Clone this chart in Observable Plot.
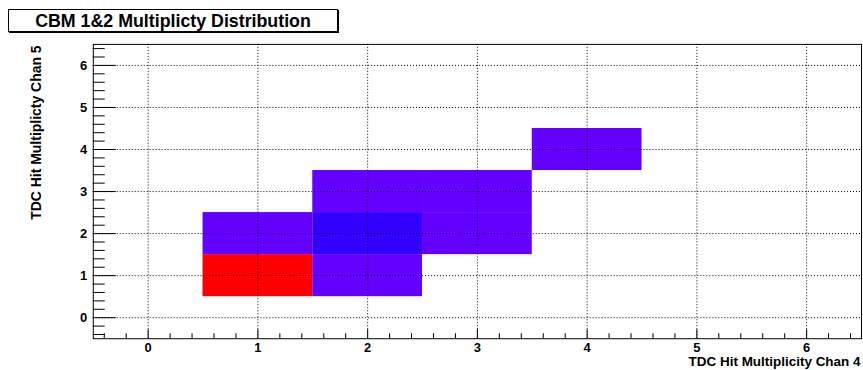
<!DOCTYPE html>
<html>
<head>
<meta charset="utf-8">
<script src="https://cdn.jsdelivr.net/npm/d3@7"></script>
<script src="https://cdn.jsdelivr.net/npm/@observablehq/plot@0.6"></script>
<style>
  html, body { margin: 0; padding: 0; background: #fff; overflow: hidden; }
  #wrap { position: relative; width: 863px; height: 370px; }
  #title {
    position: absolute; left: 8px; top: 9px; width: 328px; height: 21px;
    border: 1px solid #000; box-shadow: 1px 1px 0 #000; background: #fff;
    font: bold 17.8px "Liberation Sans", Arial, sans-serif; line-height: 22px;
    text-align: center; color: #000; white-space: nowrap;
  }
  svg { display: block; }
</style>
</head>
<body>
<div id="wrap">
  <div id="chart"></div>
  <div id="title">CBM 1&amp;2 Multiplicty Distribution</div>
</div>
<script>
// Filled bins of the 2D multiplicity histogram (bin centres and entries)
const chan4Bins = [1, 1, 2, 2, 2, 3, 3, 4];
const chan5Bins = [1, 2, 1, 2, 3, 2, 3, 4];
const entries   = [22, 1, 1, 2, 1, 1, 1, 1];

const binWidth = 1;
const axisRange = [-0.5, 6.5];
const majorTicks = [0, 1, 2, 3, 4, 5, 6];
const minorTicks = d3.range(-2, 33).map(i => i / 5).filter(v => !Number.isInteger(v) && v > -0.5 && v < 6.5);

const xTitle = "TDC Hit Multiplicity Chan 4";
const yTitle = "TDC Hit Multiplicty Chan 5";

const bins = chan4Bins.map((x, i) => ({x, y: chan5Bins[i], n: entries[i]}));

// Rainbow palette: 50 discrete hues from violet (low) to red (high)
const nColors = 50;
const palette = t => {
  const idx = Math.max(0, Math.min(nColors - 1, Math.floor(t * nColors)));
  const hue = 280 - (idx + 1) * (280 / nColors);
  return d3.hsl(hue, 1, 0.5).formatHex();
};

const font = "'Liberation Sans', Arial, Helvetica, sans-serif";

const chart = Plot.plot({
  width: 865,
  height: 370,
  marginLeft: 93,
  marginRight: 2,
  marginTop: 44,
  marginBottom: 31,
  style: {fontFamily: font, fontWeight: "bold", background: "#fff", color: "#000"},
  x: {domain: axisRange, axis: null},
  y: {domain: axisRange, axis: null},
  color: {type: "linear", domain: [0, d3.max(entries)], interpolate: palette},
  marks: [
    Plot.rect(bins, {
      x1: d => d.x - binWidth / 2, x2: d => d.x + binWidth / 2,
      y1: d => d.y - binWidth / 2, y2: d => d.y + binWidth / 2,
      fill: "n"
    }),
    Plot.gridX(majorTicks, {stroke: "#000", strokeOpacity: 1, strokeDasharray: "1,2"}),
    Plot.gridY(majorTicks, {stroke: "#000", strokeOpacity: 1, strokeDasharray: "1,2"}),
    // inward ticks
    Plot.axisX(majorTicks, {anchor: "bottom", tickSize: -9, tickFormat: () => "", label: null}),
    Plot.axisX(minorTicks, {anchor: "bottom", tickSize: -5, tickFormat: () => "", label: null}),
    Plot.axisY(majorTicks, {anchor: "left", tickSize: -23, tickFormat: () => "", label: null}),
    Plot.axisY(minorTicks, {anchor: "left", tickSize: -12, tickFormat: () => "", label: null}),
    // tick labels
    Plot.axisX(majorTicks, {anchor: "bottom", tickSize: 0, tickPadding: 4, fontSize: 13, fontWeight: "bold", label: null}),
    Plot.axisY(majorTicks, {anchor: "left", tickSize: 0, tickPadding: 6, fontSize: 13, fontWeight: "bold", label: null}),
    Plot.frame({stroke: "#000"}),
    Plot.text([xTitle], {frameAnchor: "bottom-right", textAnchor: "end", lineAnchor: "bottom", dx: -1, dy: 27.5, fontSize: 13.5, fontWeight: "bold"}),
    Plot.text([yTitle], {frameAnchor: "top-left", rotate: -90, textAnchor: "end", lineAnchor: "bottom", dx: -52.5, dy: 1, fontSize: 14, fontWeight: "bold"})
  ]
});
document.getElementById("chart").appendChild(chart);
</script>
</body>
</html>
